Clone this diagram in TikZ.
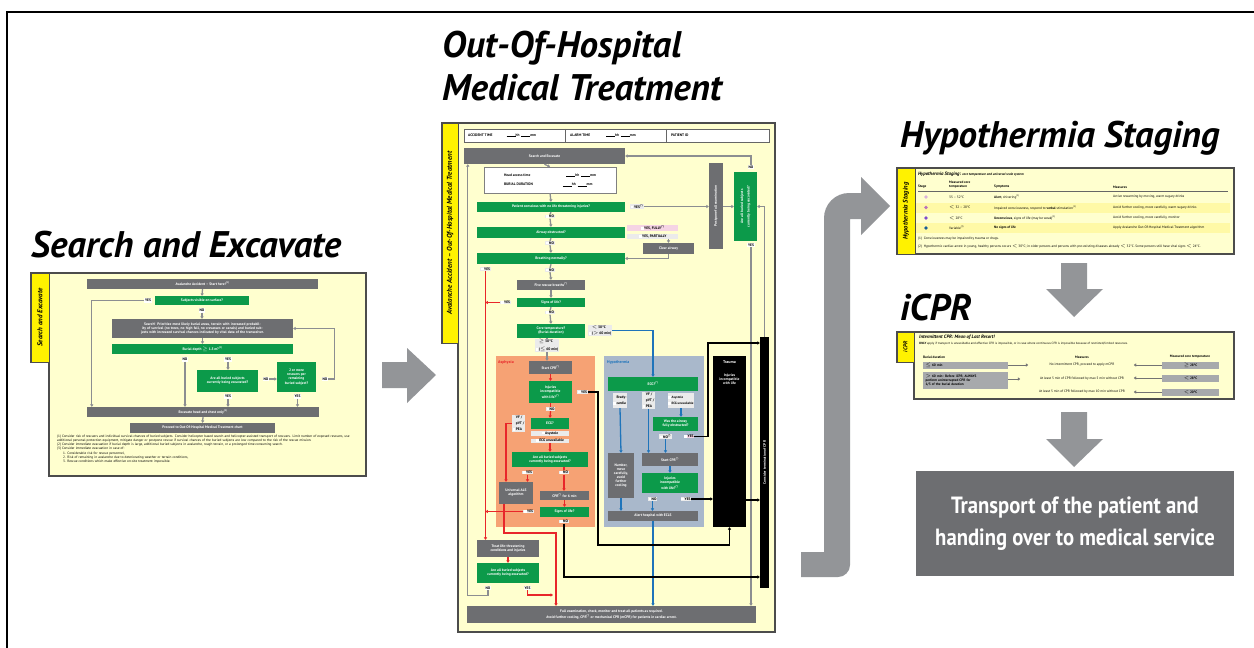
\documentclass[tikz,border=0pt]{standalone}
\usepackage{fontspec}
\setmainfont{PT Sans}
\newfontfamily\narrowfont[FakeStretch=0.88]{PT Sans}
\usetikzlibrary{arrows.meta,calc}

\definecolor{arrowgray}{HTML}{939598}
\definecolor{boxgray}{HTML}{6D6E71}
\definecolor{linegray}{HTML}{8C8E91}
\definecolor{panelyellow}{HTML}{FFFFCF}
\definecolor{stripeyellow}{HTML}{FFF9A6}
\definecolor{tabyellow}{HTML}{FFF200}
\definecolor{chartgreen}{HTML}{0C9A4A}
\definecolor{asphfill}{HTML}{F6A274}
\definecolor{hypofill}{HTML}{A9B8CB}
\definecolor{linered}{HTML}{E8262A}
\definecolor{lineblue}{HTML}{1F74BA}
\definecolor{pinkchk}{HTML}{F5D4E4}
\definecolor{icprgray}{HTML}{A7A9AC}

\newcommand{\chartfont}{\fontsize{3.6}{4.1}\selectfont\bfseries}
\newcommand{\notefont}{\fontsize{3.4}{4.1}\selectfont}
\newcommand{\ckb}{\textcolor{white}{\rule{2.6pt}{2.6pt}}\,}
\newcommand{\blank}{\rule{9pt}{0.3pt}}

\begin{document}
\begin{tikzpicture}[x=1pt,y=-1pt,
  title/.style={font=\fontsize{37}{40}\selectfont\bfseries\itshape, inner sep=0, anchor=base west},
  panel/.style={fill=panelyellow, draw=black!70, line width=1.1pt},
  tab/.style={fill=tabyellow, draw=black!70, line width=0.6pt},
  tabtext/.style={rotate=90, inner sep=0, font=\fontsize{7}{8}\selectfont\bfseries\itshape},
  gbox/.style={fill=boxgray, text=white, font=\chartfont, align=center, inner sep=0.4pt},
  cbox/.style={gbox, fill=chartgreen},
  kbox/.style={gbox, fill=black},
  lbl/.style={fill=white, text=black, font=\chartfont, inner sep=0.7pt},
  chk/.style={fill=black!8, text=black, font=\chartfont, align=left, inner sep=0.6pt},
  tabletxt/.style={anchor=west, inner sep=0, font=\notefont, align=left},
  grayline/.style={draw=linegray, line width=1.3pt},
  redline/.style={draw=linered, line width=1.3pt},
  blueline/.style={draw=lineblue, line width=1.3pt},
  blackline/.style={draw=black, line width=1.3pt},
  bigarrow/.style={fill=arrowgray},
  >={Triangle[length=2.4pt,width=3.2pt]}
]
\useasboundingbox (0,0) rectangle (1254,648);
\draw[line width=2pt] (7,648) -- (7,12) -- (1254,12); % frame

%% Search and Excavate
\node[title] (setitle) at (31,257) {Search and Excavate};
\draw[panel] (31,273) -- (366,273) -- (366,476) -- (49,476) -- (49,362) -- (31,362) -- cycle;
\draw[tab] (31,273) rectangle (49,362);
\node[tabtext] (setab) at (40,317.5) {Search and Excavate};

\node[gbox, minimum width=231, minimum height=10] (start) at (202.5,284) {Avalanche Accident -- Start here!\textsuperscript{(1)}};
\node[cbox, minimum width=94, minimum height=9] (visible) at (202,300.5) {Subjects visible on surface?};
\node[lbl] (yesA) at (148,300.5) {YES};
\node[lbl] (noA) at (202,310.5) {NO};
\node[gbox, minimum width=181, minimum height=19, text width=174] (search) at (202.5,328.5) {Search! Prioritize most likely burial areas, terrain with increased probability of survival (no trees, no high fall, no crevasses or canals) and buried subjects with increased survival chances indicated by vital data of the transceiver.};
\node[cbox, minimum width=181, minimum height=10] (depth) at (202.5,349) {Burial depth $\geq$ 1.5\,m?\textsuperscript{(2)}};
\node[lbl] (noB) at (185,359.5) {NO};
\node[lbl] (yesB) at (228,359.5) {YES};
\node[cbox, minimum width=61, minimum height=22] (allA) at (227.5,381) {Are all buried subjects\\currently being excavated?};
\node[lbl] (noC) at (266,379) {NO};
\node[cbox, minimum width=39, minimum height=30] (moreA) at (296.5,377) {2 or more\\rescuers per\\remaining\\buried subject?};
\node[lbl] (noD) at (325,379) {NO};
\node[lbl] (yesC) at (228,396.5) {YES};
\node[lbl] (yesD) at (297.5,396.5) {YES};
\node[gbox, minimum width=232, minimum height=10] (excavate) at (203,412) {Excavate head and chest only\textsuperscript{(3)}};
\node[gbox, minimum width=145, minimum height=10] (proceed) at (202.5,428) {Proceed to Out-Of-Hospital Medical Treatment chart};
\node[tabletxt, anchor=north west, text width=296] (senotes) at (57,435) {%
(1)\ Consider risk of rescuers and individual survival chances of buried subjects. Consider helicopter based search and helicopter-assisted transport of rescuers. Limit number of exposed rescuers, use additional personal protection equipment, mitigate danger or postpone rescue if survival chances of the buried subjects are low compared to the risk of the rescue mission.\\
(2)\ Consider immediate evacuation if burial depth is large, additional buried subjects in avalanche, rough terrain, or a prolonged time-consuming search.\\
(3)\ Consider immediate evacuation in case of:\\
\hspace*{6pt}1. Considerable risk for rescue personnel,\\
\hspace*{6pt}2. Risk of remaining in avalanche due to deteriorating weather or terrain conditions,\\
\hspace*{6pt}3. Rescue conditions which make effective on-site treatment impossible.};

\draw[grayline,->] (start.south) -- (visible.north);
\draw[grayline,->] (yesA.west) -| ($(excavate.north west)+(5,0)$);
\draw[grayline,->] (noA.south) -- (noA.south |- search.north);
\draw[grayline,->] (search.south) -- (depth.north);
\draw[grayline,->] (noB.south) -- (noB.south |- excavate.north);
\draw[grayline,->] (yesB.south) -- (yesB.south |- allA.north);
\draw[grayline,->] (noC.east) -- (noC.east -| moreA.west);
\draw[grayline,->] (noD.east) -- ++(6,0) |- (search.east);
\draw[grayline,->] (yesC.south) -- (yesC.south |- excavate.north);
\draw[grayline,->] (yesD.south) -- (yesD.south |- excavate.north);
\draw[grayline,->] (excavate.south) -- (proceed.north);

\fill[bigarrow] (382,362) -- (407,362) -- (407,348) -- (436,375) -- (407,403) -- (407,388) -- (382,388) -- cycle;

%% Out-Of-Hospital Medical Treatment
\node[title] (ohtitle) at (442,57) {Out-Of-Hospital};
\node[title] (mttitle) at (442,100) {Medical Treatment};
\draw[panel] (442,123) -- (775,123) -- (775,632) -- (458,632) -- (458,343) -- (442,343) -- cycle;
\draw[tab] (442,123) rectangle (458,343);
\node[tabtext] (ohtab) at (450,233) {Avalanche Accident -- Out-Of-Hospital Medical Treatment};

\node[draw=black!60, fill=white, minimum width=305, minimum height=13, inner sep=0] (hdr) at (616.5,135.5) {};
\draw[black!60, line width=0.5pt] ($(hdr.north west)+(101,0)$) -- ($(hdr.south west)+(101,0)$);
\draw[black!60, line width=0.8pt] ($(hdr.north west)+(203,0)$) -- ($(hdr.south west)+(203,0)$);
\node[tabletxt, font=\chartfont] (acctime) at (468,135.5) {ACCIDENT TIME\hspace{14pt}\blank hh\ \ \blank mm};
\node[tabletxt, font=\chartfont] (alarmtime) at (570,135.5) {ALARM TIME\hspace{16pt}\blank hh\ \ \blank mm};
\node[tabletxt, font=\chartfont] (patid) at (671,135.5) {PATIENT ID};

\fill[asphfill] (496,356) rectangle (595,527);
\fill[hypofill] (604,356) rectangle (704,527);
\node[tabletxt, font=\fontsize{4}{4.5}\selectfont\bfseries, text=linered] (asphlbl) at (498,362) {Asphyxia};
\node[tabletxt, font=\fontsize{4}{4.5}\selectfont\bfseries, text=lineblue] (hypolbl) at (607,362) {Hypothermia};

\node[gbox, minimum width=161, minimum height=16] (se) at (544.5,156) {Search and Excavate};
\node[draw=black!50, fill=white, minimum width=132, minimum height=26, font=\chartfont, align=left] (headaccess) at (550,180)
  {Head access time\hspace{36pt}\blank hh\ \ \blank mm\\[5pt]BURIAL DURATION\hspace{30pt}\blank hh\ \ \blank mm};
\node[cbox, minimum width=148, minimum height=10] (conscious) at (551,207) {Patient conscious with no life threatening injuries?};
\node[chk] (yes1) at (637,206.5) {\ckb YES\textsuperscript{(*)}};
\node[chk] (no1) at (550,216.5) {\ckb NO};
\node[gbox, minimum width=14, minimum height=86] (postpone) at (716,206) {\rotatebox{90}{Postpone full examination}};
\node[cbox, minimum width=23, minimum height=69] (allexc) at (745.5,206.5) {\rotatebox{90}{\shortstack{Are all buried subjects\\currently being excavated?}}};
\node[lbl] (noR) at (751,167) {NO};
\node[lbl] (yesR) at (751,245) {YES};
\node[cbox, minimum width=148, minimum height=11] (airway) at (551,232.5) {Airway obstructed?};
\node[chk, fill=pinkchk, minimum width=51, anchor=west] (yesfully) at (627,228) {\ckb YES, FULLY\textsuperscript{(*)}};
\node[chk, minimum width=51, anchor=west] (yespart) at (627,236.5) {\ckb YES, PARTIALLY};
\node[chk] (no2) at (550,243) {\ckb NO};
\node[gbox, minimum width=51, minimum height=11] (clear) at (668.5,248.5) {Clear airway};
\node[cbox, minimum width=148, minimum height=11] (breathing) at (551,258.5) {Breathing normally?};
\node[chk] (yes3) at (485.5,269) {\ckb YES};
\node[chk] (no3) at (550,270) {\ckb NO};
\node[gbox, minimum width=68, minimum height=10] (rescue) at (551,285) {Five rescue breaths\textsuperscript{(*)}};
\node[cbox, minimum width=68, minimum height=9] (signs1) at (551,302.5) {Signs of life?};
\node[chk] (yes4) at (505.5,302.5) {\ckb YES};
\node[chk] (no4) at (550,312.5) {\ckb NO};
\node[cbox, minimum width=68, minimum height=14] (core) at (551,331) {Core temperature?\\(Burial duration)};
\node[chk] (lt30) at (600,330.5) {\ckb\shortstack[l]{$<$ 30°C\\($>$ 60 min)}};
\node[chk] (ge30) at (547,345.5) {\ckb\shortstack[l]{$\geq$ 30°C\\($\leq$ 60 min)}};

% asphyxia
\node[gbox, minimum width=43, minimum height=13] (startcpr1) at (550.5,367.5) {Start CPR\textsuperscript{(*)}};
\node[cbox, minimum width=43, minimum height=22] (inj1) at (550.5,392) {Injuries\\incompatible\\with life?\textsuperscript{(*)}};
\node[chk] (yes5) at (582.5,392) {\ckb YES};
\node[chk] (no5) at (550.5,409) {\ckb NO};
\node[cbox, minimum width=38, minimum height=11] (ecg1) at (550,423.5) {ECG?};
\node[chk] (vf1) at (518.5,423.5) {\ckb\shortstack[l]{VF /\\pVT /\\PEA}};
\node[chk, minimum width=38, anchor=north] (asys1) at (550,431) {\ckb Asystole};
\node[chk, minimum width=38, anchor=north] (ecgu1) at (550,438.5) {\ckb ECG unavailable};
\node[cbox, minimum width=76, minimum height=15] (allexc2) at (550,459.5) {Are all buried subjects\\currently being excavated?};
\node[chk] (yes6) at (527.5,472.5) {\ckb YES};
\node[chk] (no6) at (564,472.5) {\ckb NO};
\node[gbox, minimum width=34, minimum height=22] (als) at (516,493) {Universal ALS\\algorithm};
\node[gbox, minimum width=49, minimum height=9] (cpr6) at (564.5,495.5) {CPR\textsuperscript{(*)} for 6 min};
\node[cbox, minimum width=49, minimum height=10] (signs2) at (564.5,512) {Signs of life?};
\node[chk] (yes7) at (528.5,511.5) {\ckb YES};
\node[chk] (no7) at (564,521.5) {\ckb NO};

% hypothermia
\node[cbox, minimum width=90, minimum height=14] (ecls) at (653,384) {ECG?\textsuperscript{(*)}};
\node[chk, minimum height=15] (brady) at (620,400.5) {\ckb\shortstack[l]{Brady-\\cardia}};
\node[chk, minimum height=15] (vf2) at (648.5,400.5) {\ckb\shortstack[l]{VF /\\pVT /\\PEA}};
\node[chk, minimum height=15, font=\fontsize{3.2}{3.7}\selectfont\bfseries] (asys2) at (681,400.5) {\shortstack[l]{\ckb Asystole\\\ckb ECG unavailable}};
\node[cbox, minimum width=45, minimum height=14] (airway2) at (675.5,424) {Was the airway\\fully obstructed?};
\node[chk] (no8) at (665.5,436.5) {\ckb NO\textsuperscript{(*)}};
\node[chk, fill=pinkchk] (yes8) at (689,436.5) {\ckb YES};
\node[gbox, minimum width=26, minimum height=45] (number) at (621,475.5) {Number,\\move\\carefully,\\avoid\\further\\cooling};
\node[gbox, minimum width=56, minimum height=13] (startcpr2) at (670,459.5) {Start CPR\textsuperscript{(*)}};
\node[cbox, minimum width=56, minimum height=20] (inj2) at (670,483) {Injuries\\incompatible\\with life?\textsuperscript{(*)}};
\node[chk] (no9) at (652.5,499) {\ckb NO};
\node[chk] (yes9) at (686,499) {\ckb YES};
\node[gbox, minimum width=90, minimum height=10] (alert) at (653,516) {Alert hospital with ECLS};

% trauma and termination
\node[kbox, minimum width=33, minimum height=171] (trauma) at (729.5,441.5) {};
\node[font=\fontsize{4}{4.5}\selectfont\bfseries, text=white, anchor=north, inner sep=0] (traumalbl) at ($(trauma.north)+(0,5)$) {Trauma};
\node[font=\chartfont, text=white, align=center, anchor=north, inner sep=0] (traumatxt) at ($(trauma.north)+(0,18)$) {Injuries\\incompatible\\with life};
\node[kbox, minimum width=9, minimum height=251] (term) at (764.5,462.5) {\rotatebox{90}{Consider termination of CPR}};

\node[gbox, minimum width=62, minimum height=17] (treat) at (508,548.5) {Treat life-threatening\\conditions and injuries};
\node[cbox, minimum width=62, minimum height=20] (allexc3) at (508,573) {Are all buried subjects\\currently being excavated?};
\node[lbl] (no10) at (488,588) {NO};
\node[lbl] (yes10) at (527.5,588) {YES};
\node[gbox, minimum width=289, minimum height=17] (full) at (611.5,614.5) {Full examination, check, monitor and treat all patients as required.\\Avoid further cooling, CPR\textsuperscript{(*)} or mechanical CPR (mCPR) for patients in cardiac arrest.};

\coordinate (alsturn) at (556,533);
\coordinate (blkturn) at (598,545);
\coordinate (blkup) at (708,343);
\coordinate (trm) at ($(trauma.east)+(0,58.5)$);

% gray flow
\draw[grayline,->] (se.south) -- (headaccess.north);
\draw[grayline,->] (headaccess.south) -- (conscious.north);
\draw[grayline] (conscious.south) -- (no1.north);
\draw[grayline,->] (no1.south) -- (airway.north);
\draw[grayline] (airway.south) -- (no2.north);
\draw[grayline,->] (no2.south) -- (breathing.north);
\draw[grayline] (breathing.south) -- (no3.north);
\draw[grayline,->] (no3.south) -- (rescue.north);
\draw[grayline,->] (rescue.south) -- (signs1.north);
\draw[grayline] (signs1.south) -- (no4.north);
\draw[grayline,->] (no4.south) -- (core.north);
\draw[grayline] (core.south -| ge30) -- (ge30.north);
\draw[grayline,->] (ge30.south) -- (ge30.south |- startcpr1.north);
\draw[grayline,->] (yes1.east) -- (yes1.east -| postpone.west);
\draw[grayline,->] (postpone.east |- yes1) -- (allexc.west |- yes1);
\draw[grayline,->] (noR.north) |- (se.east);
\draw[grayline,->] (yesR.south) -- (yesR.south |- full.north);
\draw[grayline,->] (term.north) |- (allexc.east);
\draw[grayline,->] (no10.south) -- ++(0,5) -| ($(se.south west)+(4,0)$);
\draw[grayline,->] (clear.north |- yespart.south) -- (clear.north);
\draw[grayline,->] (clear.south) |- (breathing.east);

% red flow
\draw[redline,->] (yes3.south) -- (yes3.south |- treat.north);
\draw[redline,->] (yes4.west) -- (yes4.west -| yes3.south);
\draw[redline,->] (startcpr1.south) -- (inj1.north);
\draw[redline] (inj1.south) -- (no5.north);
\draw[redline,->] (no5.south) -- (ecg1.north);
\draw[redline,->] (ecgu1.south) -- (ecgu1.south |- allexc2.north);
\draw[redline] (allexc2.south -| no6) -- (no6.north);
\draw[redline,->] (no6.south) -- (no6.south |- cpr6.north);
\draw[redline,->] (yes6.south) -- (yes6.south |- als.north);
\draw[redline,->] (vf1.west) -| ($(als.north)+(-10,0)$);
\draw[redline,->] (cpr6.south) -- (signs2.north);
\draw[redline,->] (yes7.west) -- (yes7.west -| yes3.south);
\draw[redline,->] ($(als.south)+(-12,0)$) |- (alsturn) -- (alsturn |- full.north);
\draw[redline,->] (treat.south) -- (allexc3.north);
\draw[redline,->] (yes10.south) |- ($(alsturn)+(-3,62)$);

% blue flow
\draw[blueline,->] (lt30.east) -| (ecls.north);
\draw[blueline,->] (brady.south) -- (number.north);
\draw[blueline,->] (vf2.south) -- (vf2.south |- startcpr2.north);
\draw[blueline,->] (asys2.south) -- (asys2.south |- airway2.north);
\draw[blueline,->] (no8.south) -- (no8.south |- startcpr2.north);
\draw[blueline,->] (startcpr2.south) -- (inj2.north);
\draw[blueline,->] (no9.south) -- (no9.south |- alert.north);
\draw[blueline,->] (number.south) -- (number.south |- alert.north);
\draw[blueline,->] (alert.south) -- (alert.south |- full.north);

% black flow
\draw[blackline,->] (yes5.east) -| (blkturn) -| (trauma.south);
\draw[blackline,->] (yes8.east) -| (blkup) -- (blkup -| term.west);
\draw[blackline,->] (yes9.east) -- (yes9.east -| trauma.west);
\draw[blackline,->] (trm) -- (trm -| term.west);
\draw[blackline,->] (no7.south) |- ($(term.west)+(0,114.5)$);

% J arrow
\fill[bigarrow] (801,552) -- (824,552) [rounded corners=25] -- (824,193) [sharp corners] -- (861,193) -- (861,177) -- (890,206) -- (861,235) -- (861,219) -- (850,219) [rounded corners=12] -- (850,577) [sharp corners] -- (801,577) -- cycle;

%% Hypothermia Staging
\node[title] (hstitle) at (900,147) {Hypothermia Staging};
\draw[panel] (897,168) rectangle (1234,254);
\fill[stripeyellow] (916,203) rectangle (1230,213);
\fill[stripeyellow] (916,223) rectangle (1230,233);
\draw[tab] (897,168) rectangle (915,254);
\node[tabtext, font=\fontsize{6.6}{8}\selectfont\bfseries\itshape] (hstab) at (906,211) {Hypothermia Staging};
\node[tabletxt] (hshead) at (918,174) {\fontsize{4.8}{5}\selectfont\bfseries\itshape Hypothermia Staging:\ \notefont\bfseries core temperature and universal scale system};
\node[tabletxt, font=\notefont\bfseries] (hsstage) at (918,187) {Stage};
\node[tabletxt, font=\notefont\bfseries] (hstemp) at (949,185) {Measured core\\temperature};
\node[tabletxt, font=\notefont\bfseries] (hssymp) at (994,187) {Symptoms};
\node[tabletxt, font=\notefont\bfseries] (hsmeas) at (1113,187) {Measures};
\draw[black!60, line width=0.4pt] (918,191) -- (1228,191);
\fill[violet!30] (926,197) circle (1.8);
\fill[violet!55] (926,207.5) circle (1.8);
\fill[blue!45!violet!70] (926,218) circle (1.8);
\fill[lineblue!80!black] (926,228) circle (1.8);
\node[tabletxt] (t1) at (949,197) {35 -- 32°C};
\node[tabletxt] (t2) at (949,207.5) {$<$ 32 -- 28°C};
\node[tabletxt] (t3) at (949,218) {$<$ 28°C};
\node[tabletxt] (t4) at (949,228) {Variable\textsuperscript{(2)}};
\node[tabletxt] (s1) at (994,197) {\textbf{Alert}, shivering\textsuperscript{(1)}};
\node[tabletxt] (s2) at (994,207.5) {Impaired consciousness, respond to \textbf{verbal} stimulation\textsuperscript{(1)}};
\node[tabletxt] (s3) at (994,218) {\textbf{Unconscious}, signs of life (may be weak)\textsuperscript{(1)}};
\node[tabletxt] (s4) at (994,228) {\textbf{No signs of life}};
\node[tabletxt] (m1) at (1113,197) {Active rewarming by moving, warm sugary drinks};
\node[tabletxt] (m2) at (1113,207.5) {Avoid further cooling, move carefully, warm sugary drinks};
\node[tabletxt] (m3) at (1113,218) {Avoid further cooling, move carefully, monitor};
\node[tabletxt] (m4) at (1113,228) {Apply Avalanche Out-Of-Hospital Medical Treatment algorithm};
\node[tabletxt] (hsn1) at (918,239) {(1)\ \ Consciousness may be impaired by trauma or drugs.};
\node[tabletxt] (hsn2) at (918,246) {(2)\ \ Hypothermic cardiac arrest in young, healthy persons occurs $<$ 30°C; in older persons and persons with pre-existing diseases already $<$ 32°C. Some persons still have vital signs $<$ 24°C.};

\fill[bigarrow] (1061,263) -- (1087,263) -- (1087,289) -- (1103,289) -- (1074,317) -- (1046,289) -- (1061,289) -- cycle;

%% iCPR
\node[title] (icprtitle) at (900,320) {iCPR};
\draw[panel] (897,332) -- (1234,332) -- (1234,399) -- (914,399) -- (914,362) -- (897,362) -- cycle;
\draw[tab] (897,332) rectangle (914,362);
\node[tabtext, font=\fontsize{5.5}{6}\selectfont\bfseries\itshape] (icprtab) at (905.5,347) {iCPR};
\node[tabletxt] (ichead) at (919,337) {\fontsize{4.8}{5}\selectfont\bfseries\itshape Intermittent CPR: Mean of Last Resort!};
\node[tabletxt, font=\fontsize{3.1}{3.5}\selectfont] (icsub) at (919,344) {\textbf{ONLY} apply if transport is unavoidable and effective CPR is impossible, or in case where continuous CPR is impossible because of restricted/limited resources.};
\node[tabletxt, font=\notefont\bfseries] (icbd) at (923,357) {Burial duration};
\node[font=\notefont\bfseries, inner sep=0] (icmeas) at (1082,357) {Measures};
\node[font=\notefont\bfseries, inner sep=0] (ictemp) at (1190,357) {Measured core temperature};
\node[fill=icprgray, minimum width=85, minimum height=7, inner sep=0.5pt, font=\notefont\bfseries, text width=80, align=left] (bd1) at (965.5,365) {$\leq$ 60 min};
\node[fill=icprgray, minimum width=85, minimum height=17, inner sep=0.5pt, font=\notefont\bfseries, text width=80, align=left] (bd2) at (965.5,380.5) {$>$ 60 min: Before iCPR, ALWAYS\\perform uninterrupted CPR for\\1/3 of the burial duration};
\node[font=\notefont, inner sep=0.5pt] (ic1) at (1082,365) {No intermittent CPR, proceed to apply mCPR};
\node[font=\notefont, inner sep=0.5pt] (ic2) at (1082,379) {At least 5 min of CPR followed by max 5 min without CPR};
\node[font=\notefont, inner sep=0.5pt] (ic3) at (1082,392) {At least 5 min of CPR followed by max 10 min without CPR};
\node[fill=icprgray, minimum width=57, minimum height=7, inner sep=0.5pt, font=\notefont\bfseries] (ct1) at (1190.5,365) {$\geq$ 28°C};
\node[fill=icprgray, minimum width=57, minimum height=7, inner sep=0.5pt, font=\notefont\bfseries] (ct2) at (1190.5,378) {$<$ 28°C};
\node[fill=icprgray, minimum width=57, minimum height=7, inner sep=0.5pt, font=\notefont\bfseries] (ct3) at (1190.5,392) {$<$ 20°C};
\draw[black!55, line width=0.4pt, ->] (bd1.east) -- ++(20,0);
\draw[black!55, line width=0.4pt, ->] (bd2.east |- ic2) -- ++(12,0);
\draw[black!55, line width=0.4pt, ->] (ct1.west) -- ++(-28,0);
\draw[black!55, line width=0.4pt, ->] (ct2.west) -- ++(-28,0);
\draw[black!55, line width=0.4pt, ->] (ct3.west) -- ++(-28,0);

\fill[bigarrow] (1061,412) -- (1087,412) -- (1087,439) -- (1103,439) -- (1074,467) -- (1046,439) -- (1061,439) -- cycle;

%% Transport
\node[fill=boxgray, minimum width=318, minimum height=105, text=white, align=center, font=\narrowfont\fontsize{23.5}{32}\selectfont\bfseries] (transport) at (1075,523.5) {Transport of the patient and\\handing over to medical service};
\end{tikzpicture}
\end{document}
